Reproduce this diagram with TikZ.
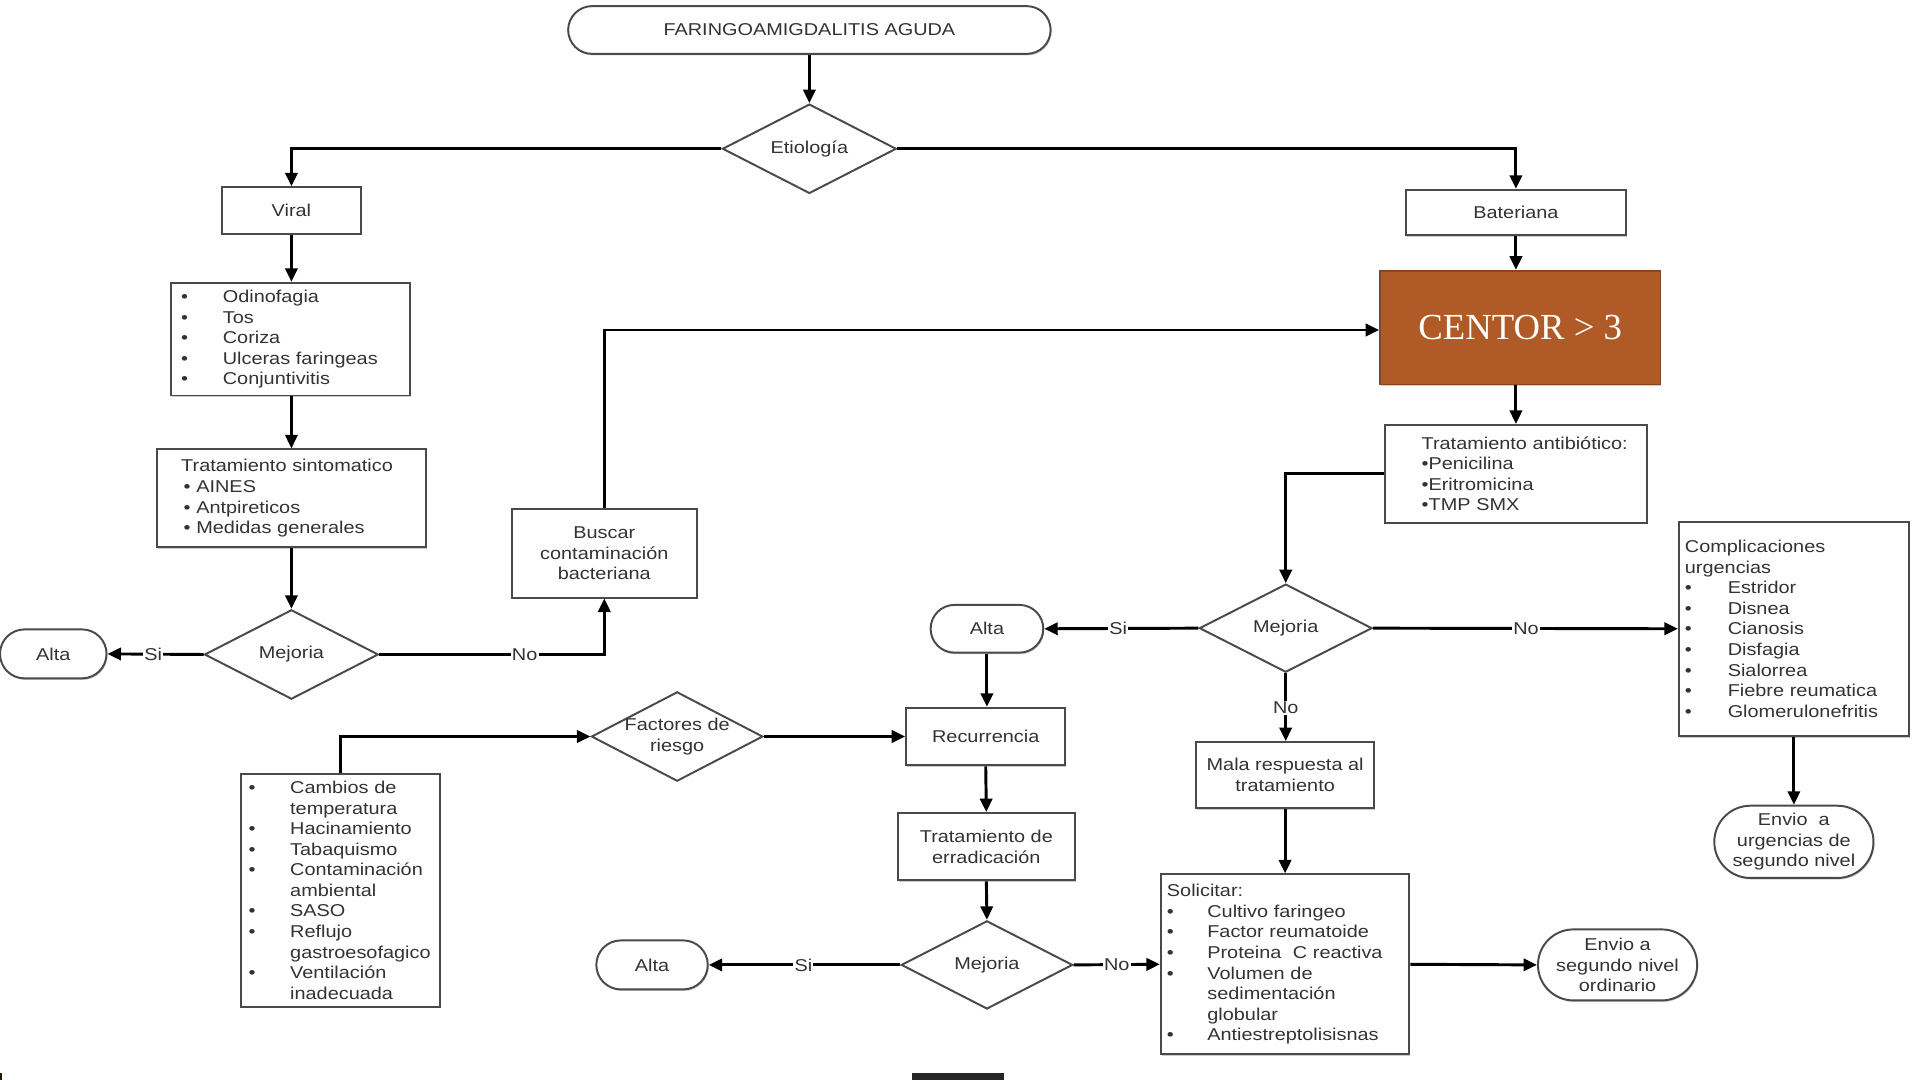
\documentclass[tikz,border=0pt]{standalone}
\usepackage{fontspec}
\setmainfont{Liberation Sans}[FakeStretch=1.16]
\newfontfamily\centorfont{Liberation Serif}
\usetikzlibrary{shapes.geometric,shapes.misc,arrows.meta,shadows}
\definecolor{boxline}{HTML}{4A4A4A}
\definecolor{txt}{HTML}{333333}
\definecolor{centorfill}{HTML}{B05A28}
\definecolor{centorline}{HTML}{8A4522}
\newcommand\bi[1]{\makebox[34pt][l]{\textbullet}#1}
\newcommand\bic[1]{\hspace*{34pt}#1}
\begin{document}
\begin{tikzpicture}[x=1pt,y=-1pt,
  font=\fontsize{14}{16.8}\selectfont, text=txt,
  shad/.style={drop shadow={shadow xshift=0.8pt,shadow yshift=-1.3pt,fill=black!40}},
  box/.style={rectangle,draw=boxline,line width=1.6pt,fill=white,inner sep=0pt,align=center,shad},
  lbox/.style={rectangle,draw=boxline,line width=1.6pt,fill=white,inner ysep=0pt,align=left,shad},
  dia/.style={diamond,aspect=2,draw=boxline,line width=1.6pt,fill=white,inner sep=0pt,align=center},
  term/.style={rounded rectangle,draw=boxline,line width=1.6pt,fill=white,inner sep=0pt,align=center,shad},
  arr/.style={draw=black,line width=2.4pt,-{Triangle[length=11pt,width=10pt]}},
  lbl/.style={fill=white,inner sep=1pt,text=txt}]
\useasboundingbox (0,0) rectangle (1568,882);

% nodes
\node[term,minimum width=394pt,minimum height=39pt] (title) at (661,24.5) {FARINGOAMIGDALITIS AGUDA};
\node[dia,minimum width=142pt,minimum height=73pt] (etio) at (661,121.5) {\raisebox{-1pt}{Etiología}};
\node[box,minimum width=114pt,minimum height=38pt] (viral) at (238,172) {Viral};
\node[box,minimum width=180pt,minimum height=37pt] (bact) at (1238,173.5) {Bateriana};
\node[lbox,inner xsep=8pt,text width=179pt,minimum width=195pt,minimum height=92pt] (odin) at (237.5,277)
  {\bi{Odinofagia}\\\bi{Tos}\\\bi{Coriza}\\\bi{Ulceras faringeas}\\\bi{Conjuntivitis}};
\node[lbox,inner xsep=20pt,text width=180pt,minimum width=220pt,minimum height=80pt] (tsint) at (238,407)
  {Tratamiento sintomatico\\\hspace*{2pt}\textbullet\ AINES\\\hspace*{2pt}\textbullet\ Antpireticos\\\hspace*{2pt}\textbullet\ Medidas generales};
\node[dia,minimum width=142pt,minimum height=73pt] (mej1) at (238,534.5) {\raisebox{-1pt}{Mejoria}};
\node[term,minimum width=87pt,minimum height=40pt] (alta1) at (43.5,534) {Alta};
\node[box,minimum width=151pt,minimum height=72pt] (busc) at (493.5,452) {Buscar\\contaminación\\bacteriana};
\node[rectangle,draw=centorline,line width=1.5pt,fill=centorfill,minimum width=229pt,minimum height=93pt,
  shad,text=white,font=\centorfont\fontsize{30}{36}\selectfont] (centor) at (1241.5,267.5) {CENTOR > 3};
\node[lbox,inner xsep=14pt,text width=186pt,minimum width=214pt,minimum height=80pt] (tanti) at (1238,387)
  {\hspace*{16pt}Tratamiento antibiótico:\\\hspace*{16pt}\textbullet Penicilina\\\hspace*{16pt}\textbullet Eritromicina\\\hspace*{16pt}\textbullet TMP SMX};
\node[dia,minimum width=141pt,minimum height=72pt] (mej2) at (1050,513) {\raisebox{-1pt}{Mejoria}};
\node[term,minimum width=92pt,minimum height=39pt] (alta2) at (806,513.5) {Alta};
\node[lbox,inner xsep=5pt,text width=178pt,minimum width=188pt,minimum height=175pt] (compl) at (1465,513.5)
  {Complicaciones\\urgencias\\\makebox[35pt][l]{\textbullet}Estridor\\\makebox[35pt][l]{\textbullet}Disnea\\
   \makebox[35pt][l]{\textbullet}Cianosis\\\makebox[35pt][l]{\textbullet}Disfagia\\\makebox[35pt][l]{\textbullet}Sialorrea\\
   \makebox[35pt][l]{\textbullet}Fiebre reumatica\\\makebox[35pt][l]{\textbullet}Glomerulonefritis};
\node[term,minimum width=130pt,minimum height=59pt] (urg) at (1465,687.5) {Envio~~a\\urgencias de\\segundo nivel};
\node[box,minimum width=145pt,minimum height=54pt] (mala) at (1049.5,633) {Mala respuesta al\\tratamiento};
\node[lbox,inner xsep=5pt,text width=193pt,minimum width=203pt,minimum height=147pt] (solic) at (1049.5,787.5)
  {Solicitar:\\\makebox[33pt][l]{\textbullet}Cultivo faringeo\\\makebox[33pt][l]{\textbullet}Factor reumatoide\\
   \makebox[33pt][l]{\textbullet}Proteina~~C reactiva\\\makebox[33pt][l]{\textbullet}Volumen de\\\hspace*{33pt}sedimentación\\
   \hspace*{33pt}globular\\\makebox[33pt][l]{\textbullet}Antiestreptolisisnas};
\node[term,minimum width=130pt,minimum height=58pt] (envio) at (1321,788) {Envio a\\segundo nivel\\ordinario};
\node[box,minimum width=130pt,minimum height=47pt] (recur) at (805,601.5) {Recurrencia};
\node[dia,minimum width=140pt,minimum height=73pt,inner sep=-6pt] (fact) at (553,601.5) {Factores de\\riesgo};
\node[lbox,inner xsep=6pt,text width=150pt,minimum width=162pt,minimum height=190pt] (camb) at (278,727)
  {\bi{Cambios de}\\\bic{temperatura}\\\bi{Hacinamiento}\\\bi{Tabaquismo}\\\bi{Contaminación}\\\bic{ambiental}\\
   \bi{SASO}\\\bi{Reflujo}\\\bic{gastroesofagico}\\\bi{Ventilación}\\\bic{inadecuada}};
\node[box,minimum width=145pt,minimum height=55pt] (errad) at (805.5,691.5) {Tratamiento de\\erradicación};
\node[dia,minimum width=140pt,minimum height=72pt] (mej3) at (806,788) {\raisebox{-1pt}{Mejoria}};
\node[term,minimum width=91pt,minimum height=40pt] (alta3) at (532.5,788) {Alta};

% connectors
\draw[arr] (title.south) -- (etio.north);
\draw[arr] (etio.west) -| (viral.north);
\draw[arr] (etio.east) -| (bact.north);
\draw[arr] (viral.south) -- (odin.north -| viral.south);
\draw[arr] (odin.south -| viral.south) -- (tsint.north);
\draw[arr] (tsint.south) -- (mej1.north);
\draw[arr] (mej1.west) -- node[lbl,pos=0.525]{Si} (alta1.east);
\draw[arr] (mej1.east) -| node[lbl,pos=0.323]{No} (busc.south);
\draw[arr] (busc.north) |- ([yshift=-2pt]centor.west);
\draw[arr] (bact.south) -- (bact.south |- centor.north);
\draw[arr] (tanti.north |- centor.south) -- (tanti.north);
\draw[arr] (tanti.west) -| (mej2.north);
\draw[arr] (mej2.west) -- node[lbl,pos=0.52]{Si} (alta2.east);
\draw[arr] (mej2.east) -- node[lbl,pos=0.502]{No} (compl.west);
\draw[arr] (mej2.south) -- node[lbl,pos=0.51]{No} (mala.north -| mej2.south);
\draw[arr] (mala.south) -- (solic.north);
\draw[arr] (solic.east) -- (envio.west);
\draw[arr] (compl.south) -- (urg.north);
\draw[arr] (alta2.south) -- (recur.north -| alta2.south);
\draw[arr] (fact.east) -- (recur.west);
\draw[arr] (camb.north) |- (fact.west);
\draw[arr] (recur.south) -- (errad.north);
\draw[arr] (errad.south) -- (mej3.north);
\draw[arr] (mej3.west) -- node[lbl,pos=0.506]{Si} (alta3.east);
\draw[arr] (mej3.east) -- node[lbl,pos=0.5]{No} (solic.west);

% marks at the bottom edge
\fill[black!85] (745,876) rectangle (820,882);
\fill[black!80!brown] (0,876) rectangle (2,882);
\end{tikzpicture}
\end{document}
